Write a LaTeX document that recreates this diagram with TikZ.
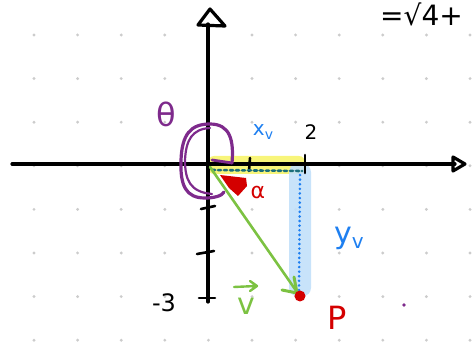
\documentclass[tikz,border=0pt]{standalone}
\usepackage{fontspec}
\setmainfont{DejaVu Sans}
\definecolor{penpurple}{HTML}{7E2A8C}
\definecolor{penred}{HTML}{D40000}
\definecolor{pengreen}{HTML}{7CC242}
\definecolor{penblue}{HTML}{1E7FF0}
\definecolor{hlblue}{HTML}{C2E0FA}
\definecolor{hlyellow}{HTML}{F8F57A}
\definecolor{penteal}{HTML}{1A6E7A}
\begin{document}
\begin{tikzpicture}[x=1pt,y=-1pt,line cap=round,line join=round,
  axis/.style={black,line width=3.2pt},
  lbl/.style={inner sep=0pt,font=\fontsize{20}{20}\selectfont}]
\useasboundingbox (0,0) rectangle (472,342);
\clip (0,0) rectangle (472,342);
% grid dots
\foreach \i in {0,...,10}{
  \foreach \j in {0,...,7}{
    \fill[gray!40] ({34+43.6*\i},{35+43.6*\j}) circle (1.6pt);
  }
}
% highlights
\fill[hlyellow,rounded corners=6pt] (208,156) rectangle (305,174);
\fill[hlblue,opacity=0.9,rounded corners=8pt] (289,164) rectangle (311,296);
% axes
\coordinate (xl) at (12,164);
\coordinate (xr) at (455,164);
\coordinate (yb) at (208,302);
\coordinate (yt) at (208,24);
\draw[axis] (xl) -- (xr);
\draw[axis] (yb) -- (yt);
\draw[axis] (453,157) -- (465,164) -- (453,171) -- cycle;
\draw[axis] (198,25) -- (210,9) -- (225,26) -- cycle;
% ticks
\draw[axis,line width=2.6pt] (250,158) -- (249,171);
\draw[axis,line width=2.6pt] (305,155) -- (305,173);
\draw[axis,line width=2.6pt] (201,209) -- (215,206);
\draw[axis,line width=2.6pt] (197,254) -- (214,251);
\draw[axis,line width=2.6pt] (199,298) -- (215,298);
% dashed teal line (x component)
\draw[penteal,line width=2.6pt,dash pattern=on 3pt off 3pt] (212,170) -- (302,171);
% blue dotted vertical (y component)
\draw[penblue,line width=2.8pt,dash pattern=on 0.1pt off 4.5pt] (300,175) -- (299,290);
% purple theta arc
\draw[penpurple,line width=3.2pt] (232,163) .. controls (234,140) and (230,124) .. (210,124)
  .. controls (190,124) and (182,135) .. (181,160)
  .. controls (180,186) and (186,198) .. (205,198)
  .. controls (214,198) and (222,196) .. (224,192);
\draw[penpurple,line width=2.2pt] (210,128) .. controls (192,129) and (186,140) .. (185,160)
  .. controls (185,180) and (190,192) .. (212,194);
\draw[penpurple,line width=2.8pt] (212,160) -- (232,163);
% alpha marker
\fill[penred] (220,175) -- (246,178) -- (247,186) -- (238,196) -- (229,188) -- cycle;
% green vector
\coordinate (o) at (210,167);
\coordinate (p) at (297,292);
\draw[pengreen,line width=2.6pt] (o) -- (p);
\draw[pengreen,line width=3pt] (282,290) -- (297,293) -- (294,277);
% point P
\fill[penred] (300,296) circle (5.5pt);
% labels
\node[lbl,text=black] (two) at (311,132) {2};
\node[lbl,text=black,font=\fontsize{24}{24}\selectfont] (m3) at (164,303) {-3};
\node[lbl,text=penblue] (xv) at (263,132) {x\raisebox{-0.4ex}{\fontsize{14}{14}\selectfont v}};
\node[lbl,text=penblue,font=\fontsize{30}{30}\selectfont] (yv) at (349,238) {y\raisebox{-0.35ex}{\fontsize{20}{20}\selectfont v}};
\node[lbl,text=penred,font=\fontsize{22}{22}\selectfont] (al) at (258,192) {α};
\node[lbl,text=penred,font=\fontsize{32}{32}\selectfont] (P) at (337,318) {P};
\node[lbl,text=penpurple,font=\fontsize{32}{32}\selectfont] (th) at (166,114) {θ};
\node[lbl,text=pengreen,font=\fontsize{30}{30}\selectfont] (v) at (246,306) {v};
\draw[pengreen,line width=2.4pt] (234,287) -- (256,286) (250,281) -- (257,286) -- (250,291);
\node[lbl,text=black,font=\fontsize{28}{28}\selectfont,anchor=west] (eq) at (380,14) {=√4+};
\fill[penpurple] (404,305) circle (1.8pt);
\end{tikzpicture}
\end{document}
